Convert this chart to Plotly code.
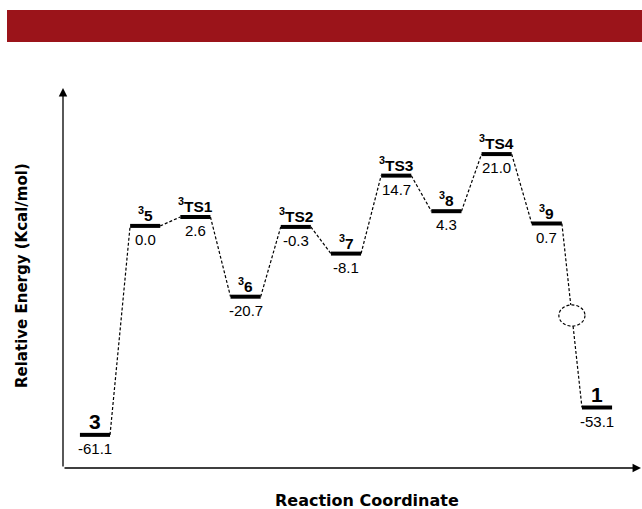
import plotly.graph_objects as go

# ---- data ----
species = ["3", "5", "TS1", "6", "TS2", "7", "TS3", "8", "TS4", "9", "1"]
triplet = [False, True, True, True, True, True, True, True, True, True, False]
energies = [-61.1, 0.0, 2.6, -20.7, -0.3, -8.1, 14.7, 4.3, 21.0, 0.7, -53.1]
value_labels = ["-61.1", "0.0", "2.6", "-20.7", "-0.3", "-8.1", "14.7", "4.3", "21.0", "0.7", "-53.1"]
broken_step = 9          # connector 9 -> 10 drawn with a dashed break circle

# ---- styling ----
FONT = "Liberation Sans, Arial, sans-serif"
TITLE_FONT = "DejaVu Sans, Liberation Sans, sans-serif"
HALF = 0.3               # half width of a level, in reaction-coordinate units
W, H = 642, 509
ML, MR, MT, MB = 63, 1, 88, 41
XR = [-0.637, 10.876]
YR = [-70.79, 40.32]
PW, PH = W - ML - MR, H - MT - MB

def px_to_paper_x(px):
    return (px - ML) / PW

def px_to_paper_y(py):
    return (H - MB - py) / PH

xs = list(range(len(species)))
fig = go.Figure()

# dashed connectors
for i in range(len(species) - 1):
    x0, y0 = xs[i] + HALF, energies[i]
    x1, y1 = xs[i + 1] - HALF, energies[i + 1]
    if i == broken_step:
        xm, ym = (x0 + x1) / 2, (y0 + y1) / 2
        ry = 3.1
        rx = 0.26
        t_top = (y0 - (ym + ry)) / (y0 - y1)
        t_bot = (y0 - (ym - ry)) / (y0 - y1)
        segs = [((x0, y0), (x0 + (x1 - x0) * t_top, ym + ry)),
                ((x0 + (x1 - x0) * t_bot, ym - ry), (x1, y1))]
        for (a, b) in segs:
            fig.add_trace(go.Scatter(x=[a[0], b[0]], y=[a[1], b[1]], mode="lines",
                                     line=dict(color="black", width=1.2, dash="3px,2px"),
                                     hoverinfo="skip", showlegend=False))
        fig.add_shape(type="circle", xref="x", yref="y",
                      x0=xm - rx, x1=xm + rx, y0=ym - ry, y1=ym + ry,
                      line=dict(color="black", width=1.2, dash="3px,2px"))
    else:
        fig.add_trace(go.Scatter(x=[x0, x1], y=[y0, y1], mode="lines",
                                 line=dict(color="black", width=1.2, dash="3px,2px"),
                                 hoverinfo="skip", showlegend=False))

# energy levels
lx, ly = [], []
for x, e in zip(xs, energies):
    lx += [x - HALF, x + HALF, None]
    ly += [e, e, None]
fig.add_trace(go.Scatter(x=lx, y=ly, mode="lines", line=dict(color="black", width=4),
                         hoverinfo="skip", showlegend=False))

annotations = []
for x, e, name, trip, val in zip(xs, energies, species, triplet, value_labels):
    if trip:
        txt = "<b><sup>3</sup>" + name + "</b>"
        size = 15.5
    else:
        txt = "<b>" + name + "</b>"
        size = 21
    annotations.append(dict(x=x, y=e, xref="x", yref="y", text=txt, showarrow=False,
                            xanchor="center", yanchor="bottom", yshift=0,
                            font=dict(family=FONT, size=size, color="black")))
    annotations.append(dict(x=x, y=e, xref="x", yref="y", text=val, showarrow=False,
                            xanchor="center", yanchor="middle", yshift=-13.5,
                            font=dict(family=FONT, size=15, color="black")))

# axes with arrows
annotations.append(dict(x=0, y=1, xref="paper", yref="paper", ax=0, ay=PH,
                        axref="pixel", ayref="pixel", text="", showarrow=True,
                        arrowhead=2, arrowsize=1.3, arrowwidth=1.3, arrowcolor="black",
                        standoff=0, startstandoff=0))
annotations.append(dict(x=1, y=0, xref="paper", yref="paper", ax=-PW, ay=0,
                        axref="pixel", ayref="pixel", text="", showarrow=True,
                        arrowhead=2, arrowsize=1.3, arrowwidth=1.3, arrowcolor="black",
                        standoff=0, startstandoff=0))

# axis titles
annotations.append(dict(x=px_to_paper_x(22), y=px_to_paper_y(276), xref="paper", yref="paper",
                        text="<b>Relative Energy (Kcal/mol)</b>", textangle=-90, showarrow=False,
                        xanchor="center", yanchor="middle",
                        font=dict(family=TITLE_FONT, size=15, color="black")))
annotations.append(dict(x=px_to_paper_x(367), y=px_to_paper_y(500), xref="paper", yref="paper",
                        text="<b>Reaction Coordinate</b>", showarrow=False,
                        xanchor="center", yanchor="middle", borderpad=0,
                        font=dict(family=TITLE_FONT, size=16, color="black")))

# red banner
fig.add_shape(type="rect", xref="paper", yref="paper",
              x0=px_to_paper_x(7), x1=px_to_paper_x(643),
              y0=px_to_paper_y(42), y1=px_to_paper_y(10),
              fillcolor="#9B141A", line=dict(width=0), layer="above")

fig.update_layout(
    width=W, height=H,
    margin=dict(l=ML, r=MR, t=MT, b=MB, pad=0),
    paper_bgcolor="white", plot_bgcolor="white",
    xaxis=dict(range=XR, visible=False, fixedrange=True),
    yaxis=dict(range=YR, visible=False, fixedrange=True),
    annotations=annotations,
    showlegend=False,
)

fig.write_html("out.html", config={"displayModeBar": False},
               post_script="document.body.style.margin='0';document.body.style.overflow='hidden';")
